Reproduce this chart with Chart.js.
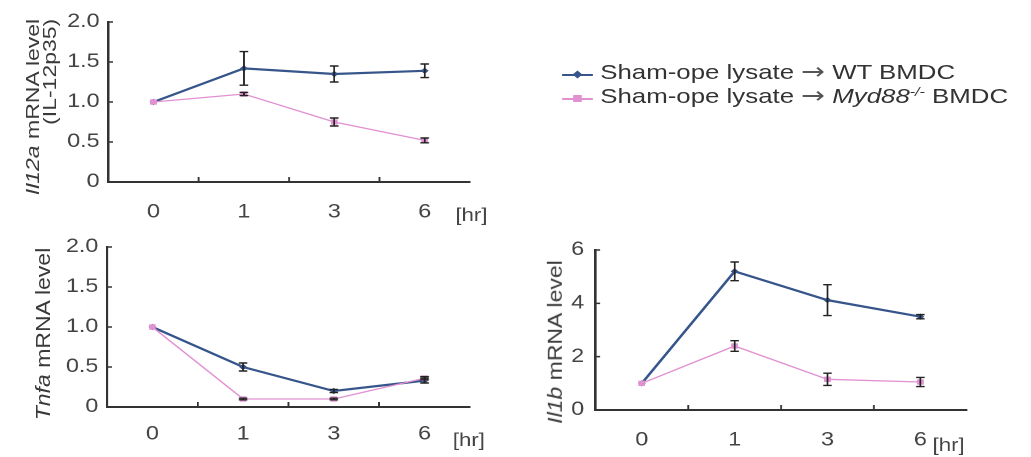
<!DOCTYPE html>
<html>
<head>
<meta charset="utf-8">
<script src="https://cdn.jsdelivr.net/npm/chart.js@4.4.1/dist/chart.umd.min.js"></script>
<style>
html, body { margin: 0; padding: 0; background: #fff; }
body { width: 1031px; height: 457px; overflow: hidden; position: relative; font-family: "Liberation Sans", Arial, sans-serif; }
/* the figure is stretched horizontally, so draw narrower and scale */
#stage { position: absolute; left: 0; top: 0; width: 838px; height: 457px; transform: scaleX(1.23); transform-origin: 0 0; }
#stage canvas { position: absolute; }
.ytitle { position: absolute; white-space: nowrap; font-size: 23px; color: #3a3a3a; text-align: right; }
.fila { position: absolute; left: 457px; height: 23.5px; line-height: 23.5px; font-size: 21px; color: #333; white-space: nowrap; }
.fila .linea { position: absolute; left: 0; top: 15px; width: 25px; height: 2px; }
.fila .punto { position: absolute; left: 9px; top: 12px; width: 7px; height: 7px; }
.fila .texto { position: absolute; left: 31px; top: 1px; }
.flecha { font-family: "DejaVu Sans", sans-serif; font-size: 1.1em; line-height: 0; color: #555; }
sup { font-size: 0.62em; vertical-align: 0.55em; line-height: 0; font-style: italic; }
</style>
</head>
<body>
<div id="stage">
  <canvas id="graficoIl12a" width="400" height="230" style="left:0px;top:0px"></canvas>
  <canvas id="graficoTnfa" width="400" height="230" style="left:0px;top:225px"></canvas>
  <canvas id="graficoIl1b" width="408" height="229" style="left:396px;top:228px"></canvas>
  <div id="leyenda"></div>
</div>
<div class="ytitle" style="left:41px;top:107px;line-height:22px;transform:translate(-50%,-50%) rotate(-90deg) scaleY(0.78)"><i>Il12a</i> mRNA level<br>(IL-12p35)</div>
<div class="ytitle" style="left:42.5px;top:333.5px;transform:translate(-50%,-50%) rotate(-90deg) scaleY(0.9)"><i>Tnfa</i> mRNA level</div>
<div class="ytitle" style="left:555px;top:342px;transform:translate(-50%,-50%) rotate(-90deg) scaleY(0.9)"><i>Il1b</i> mRNA level</div>

<script>
const horas = ["0", "1", "3", "6"]
const unidad = "[hr]"
const ticksNivel = ["0", "0.5", "1.0", "1.5", "2.0"]
const ticksIl1b = ["0", "2", "4", "6"]

const il12aWT = [1.0, 1.42, 1.35, 1.39]
const il12aWTErr = [0, 0.21, 0.10, 0.085]
const il12aKO = [1.0, 1.10, 0.75, 0.52]
const il12aKOErr = [0, 0.02, 0.05, 0.03]

const tnfaWT = [1.0, 0.50, 0.20, 0.33]
const tnfaWTErr = [0, 0.05, 0.02, 0.03]
const tnfaKO = [1.0, 0.10, 0.10, 0.36]
const tnfaKOErr = [0, 0.01, 0.01, 0.02]

const il1bWT = [1.0, 5.2, 4.12, 3.5]
const il1bWTErr = [0, 0.35, 0.58, 0.08]
const il1bKO = [1.0, 2.4, 1.15, 1.05]
const il1bKOErr = [0, 0.2, 0.23, 0.17]

const colorWT = "#36558a"
const colorKO = "#e190d2"
const colorEje = "#333"
const colorTexto = "#444"

Chart.defaults.font.family = "'Liberation Sans', Arial, sans-serif"

// vertical error bars with caps
const barrasError = {
    id: "barrasError",
    afterDatasetsDraw(chart) {
        const ctx = chart.ctx
        const y = chart.scales.y
        ctx.save()
        ctx.strokeStyle = "#222"
        ctx.lineWidth = 1.4
        chart.data.datasets.forEach((ds, i) => {
            if (!ds.err) return
            chart.getDatasetMeta(i).data.forEach((pt, j) => {
                const e = ds.err[j]
                if (!e) return
                const arriba = y.getPixelForValue(ds.data[j] + e)
                const abajo = y.getPixelForValue(ds.data[j] - e)
                ctx.beginPath()
                ctx.moveTo(pt.x, arriba); ctx.lineTo(pt.x, abajo)
                ctx.moveTo(pt.x - 3.5, arriba); ctx.lineTo(pt.x + 3.5, arriba)
                ctx.moveTo(pt.x - 3.5, abajo); ctx.lineTo(pt.x + 3.5, abajo)
                ctx.stroke()
            })
        })
        ctx.restore()
    },
}

// small inward tick marks and the [hr] unit
const marcasEje = {
    id: "marcasEje",
    afterDraw(chart, args, opts) {
        const { ctx, chartArea: a, scales: { x, y } } = chart
        ctx.save()
        ctx.strokeStyle = colorEje
        ctx.lineWidth = 1.5
        ctx.beginPath()
        for (let i = 1; i < chart.data.labels.length; i++) {
            const px = (x.getPixelForValue(i - 1) + x.getPixelForValue(i)) / 2
            ctx.moveTo(px, a.bottom)
            ctx.lineTo(px, a.bottom - 5)
        }
        y.ticks.forEach(t => {
            const py = y.getPixelForValue(t.value)
            ctx.moveTo(a.left, py)
            ctx.lineTo(a.left + 4, py)
        })
        ctx.stroke()
        ctx.fillStyle = colorTexto
        ctx.font = "18px 'Liberation Sans', Arial, sans-serif"
        ctx.textBaseline = "middle"
        const ultimo = x.getPixelForValue(chart.data.labels.length - 1)
        ctx.fillText(unidad, ultimo + opts.hueco, a.bottom + opts.bajada)
        ctx.restore()
    },
}

function serie(nombre, datos, errores, color, esWT) {
    return {
        label: nombre,
        data: datos,
        err: errores,
        borderColor: color,
        backgroundColor: color,
        borderWidth: esWT ? 2.2 : 1.3,
        pointStyle: esWT ? "rectRot" : "rect",
        pointRadius: esWT ? 3.2 : 3.8,
        pointBorderWidth: 0,
        tension: 0,
        order: esWT ? 1 : 0,
    }
}

function grafico(id, wt, wtErr, ko, koErr, etiquetasY, maxY, paso, ajuste) {
    return new Chart(document.getElementById(id), {
        type: "line",
        data: {
            labels: horas,
            datasets: [
                serie("Sham-ope lysate → WT BMDC", wt, wtErr, colorWT, true),
                serie("Sham-ope lysate → Myd88-/- BMDC", ko, koErr, colorKO, false),
            ],
        },
        options: {
            responsive: false,
            animation: false,
            devicePixelRatio: 2,
            layout: { padding: { top: 22, right: 18, left: 0, bottom: 0 } },
            plugins: {
                legend: { display: false },
                tooltip: { enabled: false },
                marcasEje: { hueco: ajuste.hueco, bajada: ajuste.bajada },
            },
            scales: {
                x: {
                    type: "category",
                    offset: true,
                    grid: { display: false, drawTicks: false },
                    border: { display: true, color: colorEje, width: 2 },
                    ticks: { color: colorTexto, font: { size: 19 }, padding: ajuste.padX, maxRotation: 0 },
                    afterFit: s => { s.height = ajuste.altoX },
                },
                y: {
                    min: 0,
                    max: maxY,
                    grid: { display: false, drawTicks: false },
                    border: { display: true, color: colorEje, width: 2 },
                    ticks: {
                        stepSize: paso,
                        color: colorTexto,
                        font: { size: 19 },
                        padding: ajuste.padY,
                        callback: (v, i) => etiquetasY[i],
                    },
                    afterFit: s => { s.width = ajuste.anchoY },
                },
            },
        },
        plugins: [barrasError, marcasEje],
    })
}

grafico("graficoIl12a", il12aWT, il12aWTErr, il12aKO, il12aKOErr, ticksNivel, 2, 0.5,
    { anchoY: 88, altoX: 48, padX: 19, padY: 7, hueco: 25, bajada: 34 })
grafico("graficoTnfa", tnfaWT, tnfaWTErr, tnfaKO, tnfaKOErr, ticksNivel, 2, 0.5,
    { anchoY: 87, altoX: 48, padX: 16, padY: 7, hueco: 23, bajada: 34 })
grafico("graficoIl1b", il1bWT, il1bWTErr, il1bKO, il1bKOErr, ticksIl1b, 6, 2,
    { anchoY: 88, altoX: 47, padX: 19, padY: 9, hueco: 10, bajada: 36 })

// legend in HTML so the gene name can be italic with a superscript
const filasLeyenda = [
    { color: colorWT, forma: "rombo", html: "Sham-ope lysate <span class=\"flecha\">→</span> WT BMDC", top: 59.2 },
    { color: colorKO, forma: "cuadro", html: "Sham-ope lysate <span class=\"flecha\">→</span> <i>Myd88</i><sup>-/-</sup> BMDC", top: 82.7 },
]
const leyenda = document.getElementById("leyenda")
filasLeyenda.forEach(f => {
    const fila = document.createElement("div")
    fila.className = "fila"
    fila.style.top = f.top + "px"
    const giro = f.forma === "rombo" ? "transform:rotate(45deg) scale(0.8);" : ""
    fila.innerHTML =
        '<span class="linea" style="background:' + f.color + '"></span>' +
        '<span class="punto" style="background:' + f.color + ';' + giro + '"></span>' +
        '<span class="texto">' + f.html + '</span>'
    leyenda.appendChild(fila)
})
</script>
</body>
</html>
